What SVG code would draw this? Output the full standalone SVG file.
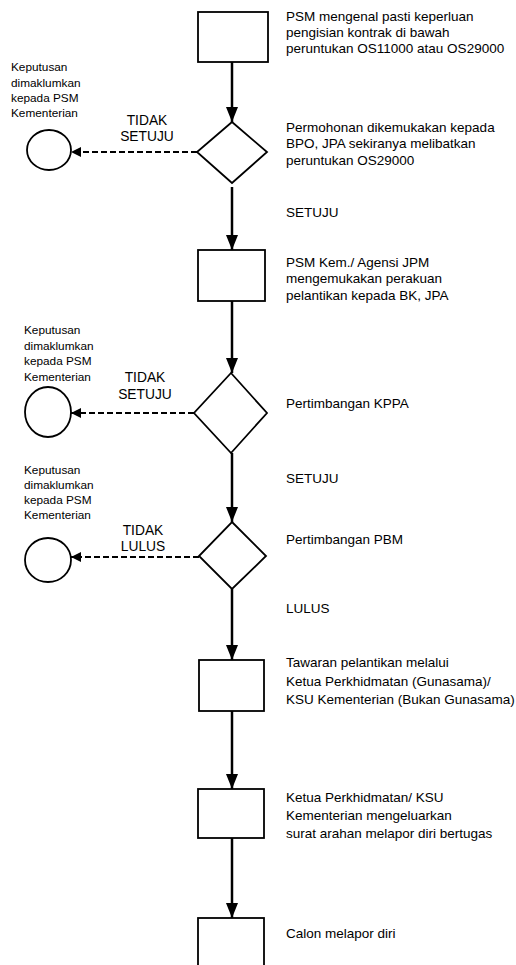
<svg xmlns="http://www.w3.org/2000/svg" width="516" height="965" viewBox="0 0 516 965">
<style>
.bg{fill:#fff}
.node{fill:#fff;stroke:#000;stroke-width:1.8}
.flow{stroke:#000;stroke-width:2.5;fill:none}
.dash{stroke:#000;stroke-width:2.2;fill:none;stroke-dasharray:6 3}
.t{font-family:"Liberation Sans",Arial,sans-serif;font-size:13.5px;fill:#000}
.s{font-family:"Liberation Sans",Arial,sans-serif;font-size:11.8px;fill:#000}
.c{font-family:"Liberation Sans",Arial,sans-serif;font-size:13.8px;fill:#000;text-anchor:middle}
</style>
<defs>
<marker id="arr" viewBox="0 0 15 12" refX="15" refY="6" markerWidth="15" markerHeight="12" orient="auto" markerUnits="userSpaceOnUse"><path d="M0,0 L15,6 L0,12 z" fill="#000"/></marker>
<marker id="arrs" viewBox="0 0 10 10" refX="10" refY="5" markerWidth="10" markerHeight="10" orient="auto" markerUnits="userSpaceOnUse"><path d="M0,0 L10,5 L0,10 z" fill="#000"/></marker>
</defs>
<rect class="bg" x="0" y="0" width="516" height="965"/>
<g id="connectors">
<line class="flow" x1="232" y1="62" x2="232" y2="122" marker-end="url(#arr)"/>
<line class="dash" x1="197" y1="152" x2="71" y2="152" marker-end="url(#arrs)"/>
<line class="flow" x1="232" y1="187" x2="232" y2="250" marker-end="url(#arr)"/>
<line class="flow" x1="232" y1="301" x2="232" y2="373" marker-end="url(#arr)"/>
<line class="dash" x1="194" y1="413" x2="71" y2="413" marker-end="url(#arrs)"/>
<line class="flow" x1="232" y1="453" x2="232" y2="522" marker-end="url(#arr)"/>
<line class="dash" x1="199" y1="557" x2="71" y2="557" marker-end="url(#arrs)"/>
<line class="flow" x1="232" y1="589" x2="232" y2="660" marker-end="url(#arr)"/>
<line class="flow" x1="232" y1="711" x2="232" y2="789" marker-end="url(#arr)"/>
<line class="flow" x1="232" y1="838" x2="232" y2="918" marker-end="url(#arr)"/>
</g>
<g id="box1"><rect class="node" x="198" y="12" width="70" height="50"/>
<text class="t" x="286" y="21">PSM mengenal pasti keperluan</text>
<text class="t" x="286" y="37">pengisian kontrak di bawah</text>
<text class="t" x="286" y="53">peruntukan OS11000 atau OS29000</text></g>
<g id="decision1"><polygon class="node" points="232,122 267,152 232,183 197,152"/>
<text class="t" x="286" y="131.5">Permohonan dikemukakan kepada</text>
<text class="t" x="286" y="148">BPO, JPA sekiranya melibatkan</text>
<text class="t" x="286" y="164.5">peruntukan OS29000</text>
<text class="c" x="147" y="125">TIDAK</text>
<text class="c" x="147" y="140.5">SETUJU</text>
<text class="t" x="286" y="217">SETUJU</text></g>
<g id="end1"><ellipse class="node" cx="49" cy="150" rx="22" ry="20"/>
<text class="s" x="11" y="71">Keputusan</text>
<text class="s" x="11" y="86.5">dimaklumkan</text>
<text class="s" x="11" y="102">kepada PSM</text>
<text class="s" x="11" y="117">Kementerian</text></g>
<g id="box2"><rect class="node" x="198" y="250" width="67" height="51"/>
<text class="t" x="286" y="266.5">PSM Kem./ Agensi JPM</text>
<text class="t" x="286" y="283">mengemukakan perakuan</text>
<text class="t" x="286" y="300">pelantikan kepada BK, JPA</text></g>
<g id="decision2"><polygon class="node" points="231,373 267,413 231,453 194,413"/>
<text class="t" x="286" y="408">Pertimbangan KPPA</text>
<text class="c" x="145" y="382">TIDAK</text>
<text class="c" x="145" y="398.5">SETUJU</text>
<text class="t" x="286" y="483">SETUJU</text></g>
<g id="end2"><ellipse class="node" cx="48" cy="412" rx="23" ry="25"/>
<text class="s" x="24" y="334">Keputusan</text>
<text class="s" x="24" y="349.5">dimaklumkan</text>
<text class="s" x="24" y="365">kepada PSM</text>
<text class="s" x="24" y="380.5">Kementerian</text></g>
<g id="decision3"><polygon class="node" points="232,522 266,556 232,589 199,556"/>
<text class="t" x="286" y="543.5">Pertimbangan PBM</text>
<text class="c" x="143" y="535">TIDAK</text>
<text class="c" x="143" y="550.5">LULUS</text>
<text class="t" x="286" y="613">LULUS</text></g>
<g id="end3"><ellipse class="node" cx="48" cy="560" rx="23" ry="22"/>
<text class="s" x="24" y="473.5">Keputusan</text>
<text class="s" x="24" y="489">dimaklumkan</text>
<text class="s" x="24" y="504">kepada PSM</text>
<text class="s" x="24" y="519">Kementerian</text></g>
<g id="box4"><rect class="node" x="199" y="660" width="65" height="51"/>
<text class="t" x="286" y="667">Tawaran pelantikan melalui</text>
<text class="t" x="286" y="685.5">Ketua Perkhidmatan (Gunasama)/</text>
<text class="t" x="286" y="703.5">KSU Kementerian (Bukan Gunasama)</text></g>
<g id="box5"><rect class="node" x="198" y="789" width="66" height="49"/>
<text class="t" x="286" y="801.5">Ketua Perkhidmatan/ KSU</text>
<text class="t" x="286" y="819.5">Kementerian mengeluarkan</text>
<text class="t" x="286" y="837.5">surat arahan melapor diri bertugas</text></g>
<g id="box6"><rect class="node" x="198" y="918" width="66" height="60"/>
<text class="t" x="286" y="938">Calon melapor diri</text></g>
</svg>
